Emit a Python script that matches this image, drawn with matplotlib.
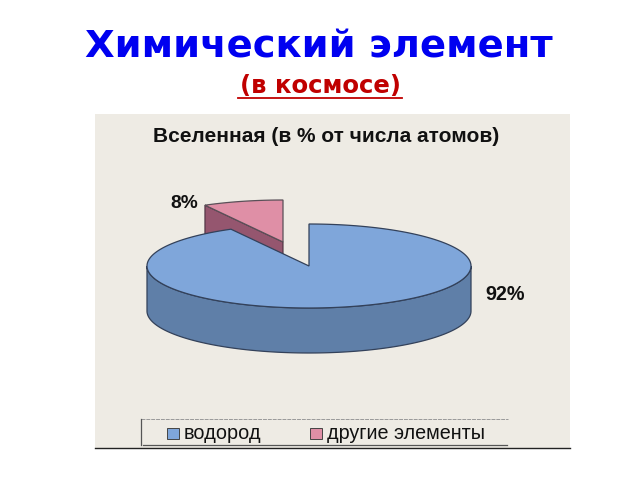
import numpy as np
import matplotlib
matplotlib.use("Agg")
import matplotlib.pyplot as plt
from matplotlib.patches import Polygon, Rectangle

title = "Химический элемент"
subtitle = "(в космосе)"
chart_title = "Вселенная (в % от числа атомов)"
categories = ["водород", "другие элементы"]
values = [92, 8]
labels = ["92%", "8%"]

TOP = ["#7FA6DA", "#DF8FA6"]
SIDE = ["#5F7FA8", "#95566F"]
EDGE = "#33415a"
PANEL = "#EEEBE4"

fig = plt.figure(figsize=(6.4, 4.8), dpi=100, facecolor="white")
ax = fig.add_axes([0, 0, 1, 1])
ax.set_xlim(0, 640)
ax.set_ylim(480, 0)
ax.axis("off")

ax.add_patch(Rectangle((95, 114), 475, 335, fc=PANEL, ec="none", zorder=0))

RX, RY, DEPTH = 162, 42, 45
cx, cy = 309, 266
px, py = 283, 242

sweep = 360 * np.array(values) / sum(values)
blue_t = np.radians(np.linspace(90, 90 - sweep[0], 300))
pink_t = np.radians(np.linspace(90 - sweep[0], 90 - sweep[0] - sweep[1], 40))


def rim(t, x0, y0, dy=0):
    return np.column_stack([x0 + RX * np.cos(t), y0 - RY * np.sin(t) + dy])


# pink slice: cut face, then top
p_end = rim(pink_t[:1], px, py)[0]
ax.add_patch(Polygon([p_end, (px, py), (px, py + DEPTH), p_end + [0, DEPTH]],
                     fc=SIDE[1], ec="#4a3040", lw=0.8, zorder=2))
ax.add_patch(Polygon(np.vstack([[(px, py)], rim(pink_t, px, py)]),
                     fc=TOP[1], ec="#5a5058", lw=0.9, zorder=3))

# blue slice: outer wall, then top
front = np.radians(np.linspace(180, 360, 200))
wall = np.vstack([rim(front, cx, cy), rim(front[::-1], cx, cy, DEPTH)])
ax.add_patch(Polygon(wall, fc=SIDE[0], ec=EDGE, lw=0.9, zorder=4))
ax.add_patch(Polygon(np.vstack([[(cx, cy)], rim(blue_t, cx, cy)]),
                     fc=TOP[0], ec=EDGE, lw=0.9, zorder=5))

# titles
ax.text(319, 48, title, color="#0000F0", fontsize=27.7, fontweight="bold",
        family="DejaVu Sans", ha="center", va="center")
ax.text(320, 86, subtitle, color="#C00000", fontsize=17.6, fontweight="bold",
        family="DejaVu Sans", ha="center", va="center")
ax.plot([238, 402], [97.5, 97.5], color="#C00000", lw=1.3)
ax.text(326, 137, chart_title, color="#111111", fontsize=15, fontweight="bold",
        family="Liberation Sans", ha="center", va="center")

# value labels
ax.text(505.5, 295, labels[0], color="#111111", fontsize=14.2, fontweight="bold",
        family="Liberation Sans", ha="center", va="center")
ax.text(184.5, 203, labels[1], color="#111111", fontsize=13.8, fontweight="bold",
        family="Liberation Sans", ha="center", va="center")

# legend
ax.plot([141, 508], [419, 419], color="#999999", lw=0.7, ls=(0, (4, 1)))
ax.plot([141, 141], [419, 445], color="#555555", lw=0.9)
ax.plot([143, 507], [445, 445], color="#555555", lw=0.9)
ax.plot([95, 570], [447.5, 447.5], color="#222222", lw=1.0)
ax.add_patch(Rectangle((167, 428), 12, 11, fc=TOP[0], ec="#444444", lw=0.7))
ax.add_patch(Rectangle((310, 428), 12, 11, fc=TOP[1], ec="#444444", lw=0.7))
ax.text(184, 433.5, categories[0], color="#111111", fontsize=14.3,
        family="Liberation Sans", ha="left", va="center")
ax.text(327, 433.5, categories[1], color="#111111", fontsize=14.2,
        family="Liberation Sans", ha="left", va="center")

fig.savefig("out.png", dpi=100)
